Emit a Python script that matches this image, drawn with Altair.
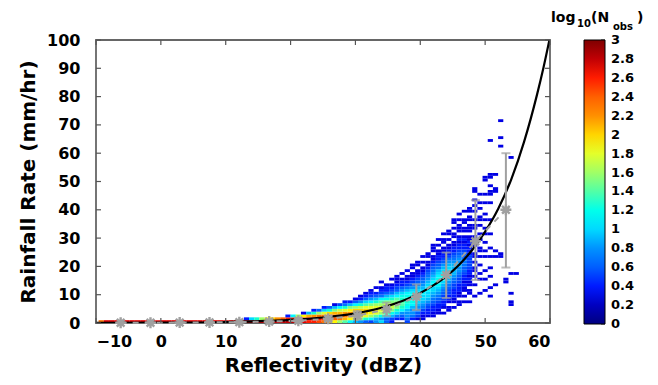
import altair as alt
import pandas as pd

FONT = "DejaVu Sans"

# ---------------- data ----------------
X_TICKS = [-10, 0, 10, 20, 30, 40, 50, 60]
Y_TICKS = [0, 10, 20, 30, 40, 50, 60, 70, 80, 90, 100]
CBAR_TICKS = [0, 0.2, 0.4, 0.6, 0.8, 1, 1.2, 1.4, 1.6, 1.8, 2, 2.2, 2.4, 2.6, 2.8, 3]
CBAR_LABELS = ["0", "0.2", "0.4", "0.6", "0.8", "1", "1.2", "1.4", "1.6", "1.8",
               "2", "2.2", "2.4", "2.6", "2.8", "3"]

BIN_W = 0.8   # dBZ per bin
BIN_H = 1.0   # mm/hr per bin
N = None
# dBZ bin index -> (first rain bin, log10(N_obs) per bin going upward; None = empty)
HEAT_COLS = {
    -12: (0, [2.3]), -11: (0, [2.7]), -10: (0, [2.7]), -9: (0, [2.7]), -8: (0, [2.7]),
    -7: (0, [2.7]), -6: (0, [2.7]), -5: (0, [2.7]), -4: (0, [2.7]), -3: (0, [2.7]),
    -2: (0, [2.7]), -1: (0, [2.7]), 0: (0, [2.7]), 1: (0, [2.7]), 2: (0, [2.7]),
    3: (0, [2.7]), 4: (0, [2.7]), 5: (0, [2.7]), 6: (0, [2.7]), 7: (0, [2.7]),
    8: (0, [2.7]), 9: (0, [2.7]), 10: (0, [2.7]), 11: (0, [2.7]), 12: (0, [2.7]),
    13: (0, [2.7]), 14: (0, [2.8]), 15: (0, [2.8]),
    16: (0, [2.8, 0.4]), 17: (0, [2.8, 1.0]), 18: (0, [2.8, 1.3]), 19: (0, [2.8, 1.6]),
    20: (0, [2.8, 1.9]), 21: (0, [2.8, 2.0]), 22: (0, [2.8, 2.2]), 23: (0, [2.8, 2.4]),
    24: (0, [2.8, 2.6, 0.4]), 25: (0, [2.8, 2.6, 1.1]), 26: (0, [2.7, 2.6, 1.6]),
    27: (0, [2.7, 2.6, 1.9, 0.3]), 28: (0, [2.6, 2.7, 2.1, 0.9]),
    29: (0, [2.6, 2.7, 2.2, 1.3, 0.4]), 30: (0, [2.5, 2.6, 2.3, 1.6, 0.6]),
    31: (0, [2.3, 2.6, 2.3, 1.8, 1.0, 0.4]), 32: (0, [2.1, 2.5, 2.4, 2.0, 1.3, 0.6]),
    33: (0, [1.9, 2.4, 2.4, 2.1, 1.5, 0.9, 0.3]), 34: (0, [1.6, 2.3, 2.4, 2.1, 1.7, 1.1, 0.5]),
    35: (0, [1.4, 2.1, 2.3, 2.2, 1.8, 1.3, 0.7, 0.4]),
    36: (0, [1.1, 1.9, 2.2, 2.2, 1.9, 1.5, 0.9, 0.4]),
    37: (0, [0.9, 1.7, 2.1, 2.1, 2.0, 1.6, 1.1, 0.6, 0.3]),
    38: (0, [0.8, 1.5, 2.0, 2.1, 2.0, 1.7, 1.3, 0.8, 0.4, 0.3]),
    39: (0, [0.6, 1.3, 1.8, 2.0, 2.0, 1.8, 1.4, 1.0, 0.6, 0.4, 0.3]),
    40: (0, [0.5, 1.1, 1.6, 1.9, 1.9, 1.8, 1.5, 1.1, 0.8, 0.5, 0.4, 0.3]),
    41: (0, [0.8, 0.9, 1.4, 1.8, 1.9, 1.8, 1.6, 1.3, 0.9, 0.6, 0.4, N, 0.3]),
    42: (0, [1.0, 0.8, 1.2, 1.6, 1.8, 1.8, 1.6, 1.4, 1.1, 0.7, 0.5, 0.4, 0.3, N, 0.3]),
    43: (0, [0.6, 0.6, 1.0, 1.4, 1.7, 1.8, 1.7, 1.5, 1.2, 0.9, 0.6, 0.4, 0.4, 0.3]),
    44: (0, [0.4, 0.5, 0.9, 1.2, 1.5, 1.7, 1.7, 1.5, 1.3, 1.0, 0.7, 0.5, 0.4, 0.3, N, 0.3]),
    45: (1, [0.4, 0.7, 1.0, 1.3, 1.5, 1.6, 1.5, 1.4, 1.1, 0.9, 0.6, 0.5, 0.4, 0.3, 0.3, 0.3]),
    46: (1, [0.4, 0.6, 0.8, 1.1, 1.3, 1.4, 1.4, 1.3, 1.2, 1.0, 0.8, 0.6, 0.4, 0.4, 0.3, N, 0.3]),
    47: (0, [0.5, 0.7, 0.8, 0.8, 0.9, 1.1, 1.2, 1.3, 1.3, 1.2, 1.1, 0.9, 0.7, 0.5, 0.4, 0.3, 0.3, N, 0.3]),
    48: (1, [0.4, 0.7, 0.8, 0.8, 0.9, 1.1, 1.2, 1.2, 1.2, 1.1, 1.0, 0.8, 0.6, 0.5, 0.4, 0.3, 0.3, N, 0.3, 0.3]),
    49: (1, [0.3, 0.5, 0.6, 0.7, 0.8, 0.9, 1.0, 1.1, 1.1, 1.1, 1.0, 0.9, 0.7, 0.6, 0.5, 0.4, 0.3, 0.3, N, 0.3, 0.3]),
    50: (1, [0.3, 0.3, 0.4, 0.5, 0.7, 0.8, 0.9, 1.0, 1.0, 1.1, 1.0, 0.9, 0.8, 0.7, 0.6, 0.5, 0.4, 0.3, 0.3, N, 0.3, N, 0.3]),
    51: (2, [0.3, 0.4, 0.4, 0.5, 0.6, 0.8, 0.9, 1.0, 1.0, 1.1, 1.1, 1.0, 0.9, 0.8, 0.7, 0.6, 0.5, 0.4, 0.3, 0.3, N, 0.3, 0.3]),
    52: (2, [0.3, 0.3, 0.4, 0.4, 0.5, 0.6, 0.7, 0.8, 0.9, 1.0, 1.0, 1.1, 1.1, 1.0, 0.9, 0.8, 0.7, 0.6, 0.5, 0.4, 0.3, 0.3, N, 0.3, 0.3, 0.3]),
    53: (3, [0.3, 0.3, 0.4, 0.4, 0.5, 0.6, 0.7, 0.8, 0.9, 1.0, 1.1, 1.1, 1.2, 1.1, 1.0, 0.9, 0.7, 0.6, 0.5, 0.4, 0.4, 0.3, 0.3, N, 0.3, N, 0.3]),
    54: (3, [0.3, N, 0.3, 0.4, 0.4, 0.5, 0.5, 0.6, 0.7, 0.8, 0.9, 1.0, 1.1, 1.2, 1.1, 1.0, 0.9, 0.8, 0.6, 0.5, 0.4, 0.4, 0.3, 0.3, N, 0.3, 0.3, N, 0.3]),
    55: (4, [0.3, 0.3, N, 0.3, 0.4, 0.4, 0.5, 0.5, 0.6, 0.7, 0.8, 0.9, 1.0, 1.0, 1.0, 1.0, 0.9, 0.8, 0.7, 0.5, 0.4, 0.4, 0.3, 0.3, N, 0.3, N, 0.3, 0.3]),
    56: (5, [0.3, N, 0.3, 0.3, 0.4, 0.4, 0.4, 0.5, 0.5, 0.6, 0.7, 0.8, 0.9, 0.9, 0.9, 0.9, 0.8, 0.7, 0.6, 0.5, 0.4, 0.4, 0.3, 0.3, N, 0.3, 0.3, N, 0.3, N, 0.3, 0.3]),
    57: (6, [0.3, 0.3, N, 0.3, 0.3, 0.4, 0.4, 0.4, 0.5, 0.5, 0.6, 0.7, 0.8, 0.8, 0.9, 0.8, 0.8, 0.7, 0.6, 0.5, 0.4, 0.4, 0.3, 0.4, 0.3, N, 0.3, 0.3, 0.3, N, 0.3, N, 0.3]),
    58: (7, [0.3, N, 0.3, N, 0.3, 0.3, 0.4, 0.3, 0.4, 0.4, 0.5, 0.6, 0.6, 0.7, 0.7, 0.7, 0.6, 0.6, 0.5, 0.4, 0.4, 0.3, 0.4, 0.3, N, 0.3, 0.3, N, 0.3, 0.3, N, N, 0.3]),
    59: (7, [0.3, N, N, 0.3, 0.3, N, 0.3, 0.3, 0.4, 0.3, 0.4, 0.4, 0.5, 0.5, 0.5, 0.5, 0.5, 0.4, 0.4, 0.4, 0.3, 0.4, 0.3, 0.3, N, 0.3, 0.3, 0.3, N, 0.3, 0.3, N, 0.3, 0.3]),
}
# isolated single-observation cells at the high-reflectivity end (bin index, rain bin)
SPARSE_K = ([60] * 19 + [61] * 15 + [62] * 14 + [63] * 15 + [64] * 6 + [65] * 5
            + [66] * 2 + [67] * 5 + [68])
SPARSE_R = ([9, 13, 16, 18, 19, 21, 23, 24, 27, 28, 30, 33, 34, 36, 39, 41, 43, 46, 47]
            + [10, 15, 17, 20, 23, 25, 26, 29, 31, 34, 36, 37, 40, 42, 45]
            + [11, 15, 18, 23, 25, 28, 31, 33, 36, 38, 42, 45, 50, 51]
            + [9, 12, 16, 19, 23, 26, 31, 36, 42, 45, 46, 48, 51, 52, 64]
            + [13, 23, 25, 46, 47, 52]
            + [23, 24, 62, 65, 71]
            + [14, 15]
            + [6, 7, 10, 17, 58]
            + [17])
SPARSE_V = 0.3

# Z-R curve, points
CURVE_DBZ = [-10, 0, 10, 20, 25, 30, 34, 38, 40, 42, 44, 46, 48, 50, 52, 54, 56, 58, 59, 60]
CURVE_R = [0.04, 0.12, 0.36, 1.1, 1.95, 3.4, 5.4, 8.5, 10.6, 13.3, 16.5, 20.6, 25.8, 32.3, 40.3, 50.6, 64.0, 80.7, 90.3, 101]

# grey binned means with spread
MEAN_DBZ = [-6.2, -1.6, 2.9, 7.5, 12.1, 16.7, 21.2, 25.8, 30.3, 34.8, 39.4, 44.0, 48.5, 53.2]
MEAN_R = [0.1, 0.1, 0.15, 0.2, 0.3, 0.5, 0.8, 1.5, 2.6, 4.8, 9.3, 17.0, 28.9, 40.0]
LOW_R = [0.0, 0.0, 0.0, 0.05, 0.1, 0.2, 0.4, 0.9, 1.5, 2.5, 4.6, 8.8, 15.2, 19.6]
HIGH_R = [0.2, 0.2, 0.3, 0.4, 0.5, 0.8, 1.4, 2.3, 4.2, 7.2, 13.6, 24.9, 43.4, 60.0]

JET_DOMAIN = [0, 0.375, 0.75, 1.125, 1.5, 1.875, 2.25, 2.625, 3]
JET_COLORS = ["#00007f", "#0000ff", "#007fff", "#00ffff", "#7fff7f",
              "#ffff00", "#ff7f00", "#ff0000", "#7f0000"]

# ---------------- build tables ----------------
cells = []
for k, (r0, vals) in HEAT_COLS.items():
    for j, v in enumerate(vals):
        if v is None:
            continue
        r = r0 + j
        cells.append({"x0": k * BIN_W, "x1": (k + 1) * BIN_W,
                      "y0": r * BIN_H, "y1": (r + 1) * BIN_H, "v": v})
for k, r in zip(SPARSE_K, SPARSE_R):
    cells.append({"x0": k * BIN_W, "x1": (k + 1) * BIN_W,
                  "y0": r * BIN_H, "y1": (r + 1) * BIN_H, "v": SPARSE_V})
heat_df = pd.DataFrame(cells)
curve_df = pd.DataFrame({"d": CURVE_DBZ, "r": CURVE_R})
mean_df = pd.DataFrame({"d": MEAN_DBZ, "r": MEAN_R, "lo": LOW_R, "hi": HIGH_R})
xt_df = pd.DataFrame({"t": X_TICKS})
yt_df = pd.DataFrame({"t": Y_TICKS})
cb_df = pd.DataFrame({"t": CBAR_TICKS, "lab": CBAR_LABELS})

W, H = 454, 283
CB_X, CB_W, CB_LEN = 488, 21, 284
xs = alt.Scale(domain=[-10, 60], nice=False, zero=False)
ys = alt.Scale(domain=[0, 100], nice=False)

x_axis = alt.Axis(values=X_TICKS, title="Reflectivity (dBZ)", grid=False, ticks=False,
                  domain=False, labelPadding=10, titlePadding=6, labelOverlap=False)
y_axis = alt.Axis(values=Y_TICKS, title="Rainfall Rate (mm/hr)", grid=False, ticks=False,
                  domain=False, labelPadding=16, titlePadding=8, labelOverlap=False)

def X(f):
    return alt.X(f, scale=xs, axis=x_axis, title="Reflectivity (dBZ)")

def Y(f):
    return alt.Y(f, scale=ys, axis=y_axis, title="Rainfall Rate (mm/hr)")

heat = alt.Chart(heat_df).mark_rect(clip=True, strokeWidth=0).encode(
    x=X("x0:Q"), x2="x1:Q", y=Y("y0:Q"), y2="y1:Q",
    color=alt.Color("v:Q",
                    scale=alt.Scale(domain=JET_DOMAIN, range=JET_COLORS, clamp=True),
                    legend=alt.Legend(orient="none", legendX=CB_X, legendY=0,
                                      direction="vertical", gradientLength=CB_LEN,
                                      gradientThickness=CB_W, title=None,
                                      labelExpr="''", values=[0, 3],
                                      gradientStrokeColor="black",
                                      gradientStrokeWidth=1)),
)

curve = alt.Chart(curve_df).mark_line(color="black", strokeWidth=2.2, clip=True,
                                      interpolate="monotone").encode(
    x=X("d:Q"), y=Y("r:Q"))

GREY = "#a0a0a0"
mean_line = alt.Chart(mean_df).mark_line(color=GREY, strokeWidth=2,
                                         strokeDash=[6, 6]).encode(
    x=X("d:Q"), y=Y("r:Q"))

err = alt.Chart(mean_df).mark_rule(color=GREY, strokeWidth=2).encode(
    x=X("d:Q"), y=Y("lo:Q"), y2="hi:Q")
cap_hi = alt.Chart(mean_df).mark_tick(color=GREY, thickness=2, size=9,
                                      orient="horizontal").encode(
    x=X("d:Q"), y=Y("hi:Q"))
cap_lo = alt.Chart(mean_df).mark_tick(color=GREY, thickness=2, size=9,
                                      orient="horizontal").encode(
    x=X("d:Q"), y=Y("lo:Q"))

STAR = "M-1,0L1,0M0,-1L0,1M-0.7,-0.7L0.7,0.7M-0.7,0.7L0.7,-0.7"
pts = alt.Chart(mean_df).mark_point(shape=STAR, size=120, color=GREY,
                                    strokeWidth=2.4, filled=False, opacity=1).encode(
    x=X("d:Q"), y=Y("r:Q"))

TICK_C = "#555555"
xt_bot = alt.Chart(xt_df).mark_rule(color=TICK_C, strokeWidth=1.2).encode(
    x=X("t:Q"), y=alt.value(H), y2=alt.value(H - 5))
xt_top = alt.Chart(xt_df).mark_rule(color=TICK_C, strokeWidth=1.2).encode(
    x=X("t:Q"), y=alt.value(0), y2=alt.value(5))
yt_left = alt.Chart(yt_df).mark_rule(color=TICK_C, strokeWidth=1.2).encode(
    y=Y("t:Q"), x=alt.value(0), x2=alt.value(5))
yt_right = alt.Chart(yt_df).mark_rule(color=TICK_C, strokeWidth=1.2).encode(
    y=Y("t:Q"), x=alt.value(W), x2=alt.value(W - 5))

one = pd.DataFrame({"a": [0]})
def label(txt, x, y, size):
    return alt.Chart(one).mark_text(text=txt, font=FONT, fontWeight="bold", fontSize=size,
                                    align="left", baseline="alphabetic", color="black").encode(
        x=alt.value(x), y=alt.value(y))

cbar_title = (label("log", 455, -18, 14) + label("10", 481, -13, 10) +
              label("(N", 495, -18, 14) + label("obs", 517, -10, 10) +
              label(")", 541, -18, 14))

main = alt.layer(heat, curve, mean_line, err, cap_hi, cap_lo, pts,
                 xt_bot, xt_top, yt_left, yt_right, cbar_title)

cbs = alt.Scale(domain=[0, 3], range=[CB_LEN, 0])
cb_text = alt.Chart(cb_df).mark_text(font=FONT, fontWeight="bold", fontSize=13,
                                     align="left", baseline="middle", color="black").encode(
    x=alt.value(CB_X + CB_W + 6), y=alt.Y("t:Q", scale=cbs, axis=None), text="lab:N")
cb_ticks = alt.Chart(cb_df).mark_rule(color="#333333", strokeWidth=1).encode(
    x=alt.value(CB_X + CB_W - 4), x2=alt.value(CB_X + CB_W),
    y=alt.Y("t:Q", scale=cbs, axis=None))
cbar = alt.layer(cb_ticks, cb_text)

chart = alt.layer(main, cbar).resolve_scale(y="independent").properties(
    width=W, height=H,
    autosize=alt.AutoSizeParams(type="none"),
    padding={"left": 88, "top": 32, "right": 100, "bottom": 54},
).configure_view(stroke="#666666", strokeWidth=1.8).configure_axis(
    labelFont=FONT, labelFontSize=16, labelFontWeight="bold", labelColor="black",
    titleFont=FONT, titleFontSize=20, titleFontWeight="bold", titleColor="black",
)

chart.save("out.html", embed_options={"renderer": "svg", "actions": False})
